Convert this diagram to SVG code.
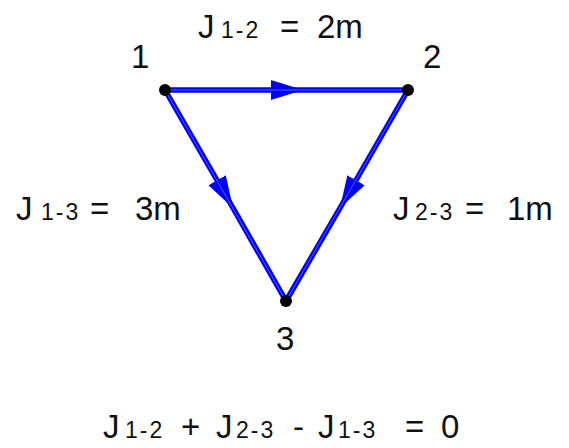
<svg xmlns="http://www.w3.org/2000/svg" width="569" height="448" viewBox="0 0 569 448">
<style>
.t{font-family:"Liberation Sans",Arial,sans-serif;font-size:33px;fill:#111}
.s{font-size:23px;letter-spacing:2px}
.e{fill:none;stroke:#0000ff;stroke-width:5.5;stroke-linecap:round;marker-mid:url(#ah)}
.in{fill:none;stroke:#5a5aff;stroke-width:1}
.dot{fill:#000}
</style>
<defs>
<marker id="ah" markerUnits="userSpaceOnUse" markerWidth="36" markerHeight="24" refX="32" refY="11" orient="auto">
<path d="M0,1 L32,11 L0,21 z" fill="#0000ff"/>
</marker>
</defs>
<g id="connectors">
<path class="e" d="M165,90 L303,90 L408,90"/>
<path class="e" d="M165,90 L233,208 L286,301"/>
<path class="e" d="M408,90 L340,208 L286,301"/>
<path class="in" d="M165,90 L408,90 M165,90 L286,301 M408,90 L286,301"/>
</g>
<g id="node1"><circle class="dot" cx="165" cy="90" r="6"/><text class="t" x="131" y="68">1</text></g>
<g id="node2"><circle class="dot" cx="408" cy="90" r="6"/><text class="t" x="423" y="68">2</text></g>
<g id="node3"><circle class="dot" cx="286" cy="301" r="6"/><text class="t" x="276" y="350">3</text></g>
<g id="label12"><text class="t" y="38"><tspan x="198">J</tspan><tspan class="s" x="221">1-2</tspan><tspan x="280">=</tspan><tspan x="317">2m</tspan></text></g>
<g id="label13"><text class="t" y="220"><tspan x="16">J</tspan><tspan class="s" x="41">1-3</tspan><tspan x="90">=</tspan><tspan x="135">3m</tspan></text></g>
<g id="label23"><text class="t" y="220"><tspan x="393">J</tspan><tspan class="s" x="415">2-3</tspan><tspan x="465">=</tspan><tspan x="507">1m</tspan></text></g>
<g id="equation"><text class="t" y="438"><tspan x="103">J</tspan><tspan class="s" x="125">1-2</tspan><tspan x="181">+</tspan><tspan x="216">J</tspan><tspan class="s" x="236">2-3</tspan><tspan x="293">-</tspan><tspan x="318">J</tspan><tspan class="s" x="338">1-3</tspan><tspan x="405">=</tspan><tspan x="441">0</tspan></text></g>
</svg>
